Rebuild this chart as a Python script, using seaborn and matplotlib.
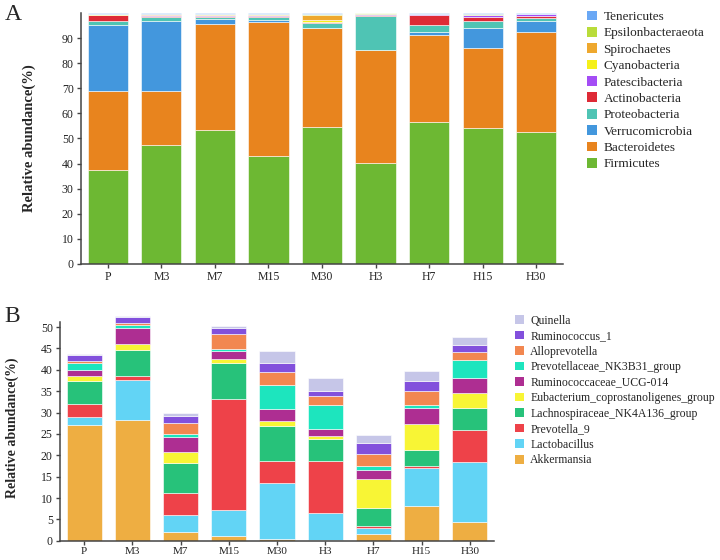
import pandas as pd
import matplotlib.pyplot as plt
import seaborn as sns
from matplotlib.patches import Patch

samples = ['P', 'M3', 'M7', 'M15', 'M30', 'H3', 'H7', 'H15', 'H30']

# A: phylum level (%), bottom to top
firmicutes = [37.5, 47.3, 53.5, 43.0, 54.5, 40.3, 56.6, 54.1, 52.5]
bacteroidetes = [31.5, 21.7, 42.3, 53.4, 39.6, 45.0, 34.6, 31.9, 40.2]
verrucomicrobia = [26.5, 28.0, 2.0, 0.9, 0.2, 0.2, 1.3, 8.3, 4.3]
proteobacteria = [1.5, 1.6, 0.8, 1.2, 1.7, 13.4, 2.9, 2.6, 1.0]
actinobacteria = [2.3, 0.4, 0.4, 0.5, 0.4, 0.5, 3.9, 1.7, 1.0]
patescibacteria = [0.2, 0.4, 0.4, 0.3, 0.3, 0.3, 0.3, 0.6, 0.6]
cyanobacteria = [0.1, 0.1, 0.2, 0.3, 0.8, 0.1, 0.1, 0.1, 0.1]
spirochaetes = [0.1, 0.2, 0.2, 0.2, 1.8, 0.1, 0.1, 0.2, 0.1]
epsilonbacteraeota = [0.1, 0.1, 0.1, 0.1, 0.3, 0.05, 0.1, 0.1, 0.1]
tenericutes = [0.2, 0.2, 0.1, 0.1, 0.4, 0.05, 0.2, 0.4, 0.1]

# B: genus level (%), bottom to top
akkermansia = [27.0, 28.3, 2.1, 1.2, 0.4, 0.1, 1.6, 8.2, 4.4]
lactobacillus = [2.0, 9.4, 3.9, 6.1, 13.1, 6.3, 1.4, 8.9, 14.1]
prevotella_9 = [2.9, 0.8, 5.1, 25.9, 5.2, 12.3, 0.5, 0.3, 7.5]
lachno = [5.4, 6.2, 7.1, 8.3, 8.2, 5.1, 4.1, 3.8, 5.0]
eubacterium = [1.2, 1.4, 2.5, 1.1, 1.2, 0.8, 6.9, 6.2, 3.7]
rumino_ucg = [1.5, 3.8, 3.7, 1.9, 2.7, 1.6, 2.0, 3.6, 3.5]
prevotellaceae = [1.6, 0.7, 0.5, 0.3, 5.6, 5.6, 1.1, 0.8, 4.1]
alloprevotella = [0.4, 0.4, 2.7, 3.6, 3.2, 2.1, 2.6, 3.3, 1.8]
ruminococcus_1 = [1.5, 1.4, 1.7, 1.4, 2.0, 1.2, 2.6, 2.4, 1.7]
quinella = [0.3, 0.3, 0.7, 0.4, 2.7, 3.1, 1.9, 2.2, 2.0]

# legend order = top of stack first
phyla = {
    'Tenericutes': (tenericutes, '#6aa8f5'),
    'Epsilonbacteraeota': (epsilonbacteraeota, '#b9dc3a'),
    'Spirochaetes': (spirochaetes, '#eea82e'),
    'Cyanobacteria': (cyanobacteria, '#f5f01a'),
    'Patescibacteria': (patescibacteria, '#a44df5'),
    'Actinobacteria': (actinobacteria, '#de2a36'),
    'Proteobacteria': (proteobacteria, '#4fc4b4'),
    'Verrucomicrobia': (verrucomicrobia, '#4397dd'),
    'Bacteroidetes': (bacteroidetes, '#e8841e'),
    'Firmicutes': (firmicutes, '#6db833'),
}
genera = {
    'Quinella': (quinella, '#c6c6e8'),
    'Ruminococcus_1': (ruminococcus_1, '#8250dc'),
    'Alloprevotella': (alloprevotella, '#f28750'),
    'Prevotellaceae_NK3B31_group': (prevotellaceae, '#1de5be'),
    'Ruminococcaceae_UCG-014': (rumino_ucg, '#ae2e92'),
    'Eubacterium_coprostanoligenes_group': (eubacterium, '#f8f535'),
    'Lachnospiraceae_NK4A136_group': (lachno, '#27c27a'),
    'Prevotella_9': (prevotella_9, '#ee4249'),
    'Lactobacillus': (lactobacillus, '#62d4f5'),
    'Akkermansia': (akkermansia, '#eeae42'),
}

sns.set_style('ticks')
plt.rcParams['font.family'] = ['Liberation Serif', 'DejaVu Serif']
plt.rcParams['axes.edgecolor'] = '#444444'
plt.rcParams['xtick.color'] = '#444444'
plt.rcParams['ytick.color'] = '#444444'
plt.rcParams['xtick.labelcolor'] = '#222222'
plt.rcParams['ytick.labelcolor'] = '#222222'

fig = plt.figure(figsize=(7.2, 5.6), dpi=100)
axA = fig.add_axes([81 / 720, 1 - 263.7 / 560, 482 / 720, 250.4 / 560])
axB = fig.add_axes([60 / 720, 1 - 540.8 / 560, 434 / 720, 226.5 / 560])


def long_table(groups):
    rows = []
    for name, (vals, _) in groups.items():
        for s, v in zip(samples, vals):
            rows.append({'sample': s, 'taxon': name, 'value': v})
    return pd.DataFrame(rows)


def stacked(ax, groups, shrink):
    df = long_table(groups)
    pal = {k: c for k, (_, c) in groups.items()}
    sns.histplot(data=df, x='sample', weights='value', hue='taxon',
                 hue_order=list(groups.keys()), multiple='stack', discrete=True,
                 shrink=shrink, palette=pal, alpha=1, edgecolor='white',
                 linewidth=0.4, legend=False, ax=ax)
    ax.set_xlim(-0.5, 8.5)
    ax.set_xlabel('')
    ax.set_xticks(range(len(samples)))
    ax.set_xticklabels(samples)
    sns.despine(ax=ax)
    ax.tick_params(length=3.2, width=1, labelsize=8.5, pad=2)
    for sp in ['left', 'bottom']:
        ax.spines[sp].set_linewidth(1.1)


stacked(axA, phyla, 0.75)
axA.set_ylim(0, 100)
axA.set_yticks(range(0, 100, 10))
axA.set_ylabel('Relative abundance(%)', fontsize=10.5, fontweight='bold')
axA.yaxis.set_label_coords(-0.094, 0.5)

stacked(axB, genera, 0.73)
axB.tick_params(axis='x', labelsize=8, pad=1)
axB.set_ylim(0, 53)
axB.set_yticks(range(0, 51, 5))
axB.spines['left'].set_bounds(0, 51.3)
axB.set_ylabel('Relative abundance(%)', fontsize=10, fontweight='bold')
axB.yaxis.set_label_coords(-0.094, 0.5)

hA = [Patch(facecolor=c, edgecolor='none') for _, c in phyla.values()]
fig.legend(hA, list(phyla.keys()), loc='upper left',
           bbox_to_anchor=(587 / 720, 1 - 10.5 / 560), frameon=False,
           fontsize=9.5, handlelength=0.75, handleheight=0.75,
           handletextpad=0.5, labelspacing=0.3, borderpad=0, borderaxespad=0)

hB = [Patch(facecolor=c, edgecolor='none') for _, c in genera.values()]
fig.legend(hB, list(genera.keys()), loc='upper left',
           bbox_to_anchor=(515 / 720, 1 - 314.5 / 560), frameon=False,
           fontsize=8.5, handlelength=0.75, handleheight=0.75,
           handletextpad=0.55, labelspacing=0.3, borderpad=0, borderaxespad=0)

fig.text(0.006, 0.992, 'A', fontsize=17, va='top')
fig.text(0.006, 1 - 306 / 560, 'B', fontsize=17, va='top')

fig.savefig('out.png', dpi=100)
